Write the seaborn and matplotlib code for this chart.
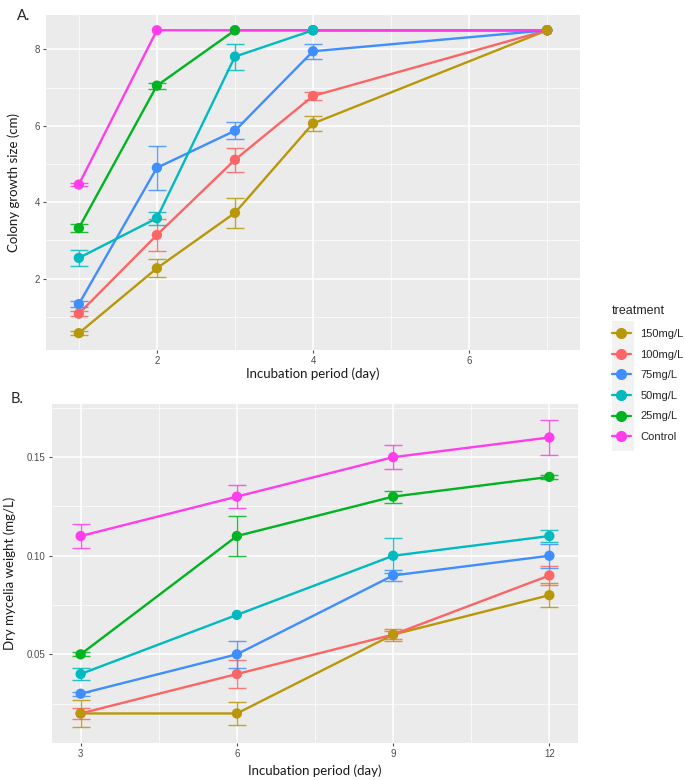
import numpy as np
import pandas as pd
import matplotlib
matplotlib.use("Agg")
import matplotlib.pyplot as plt
from matplotlib.lines import Line2D
from matplotlib.patches import Rectangle
import seaborn as sns

# Data
treatments = ["150mg/L", "100mg/L", "75mg/L", "50mg/L", "25mg/L", "Control"]
colors = ["#B8980A", "#FC6565", "#3F8EFF", "#00BABF", "#00B320", "#FF3DEB"]

# Panel A: colony growth (cm)
days_a = [1, 2, 3, 4, 7]
growth = {
    "150mg/L": [0.57, 2.27, 3.72, 6.06, 8.5],
    "100mg/L": [1.08, 3.14, 5.11, 6.78, 8.5],
    "75mg/L": [1.33, 4.90, 5.87, 7.95, 8.5],
    "50mg/L": [2.54, 3.58, 7.81, 8.5, 8.5],
    "25mg/L": [3.32, 7.05, 8.5, 8.5, 8.5],
    "Control": [4.46, 8.5, 8.5, 8.5, 8.5],
}
growth_err = {
    "150mg/L": [0.05, 0.24, 0.40, 0.20, 0.0],
    "100mg/L": [0.06, 0.42, 0.32, 0.11, 0.0],
    "75mg/L": [0.08, 0.58, 0.22, 0.20, 0.0],
    "50mg/L": [0.20, 0.17, 0.34, 0.0, 0.0],
    "25mg/L": [0.10, 0.08, 0.0, 0.0, 0.0],
    "Control": [0.05, 0.0, 0.0, 0.0, 0.0],
}

# Panel B: dry mycelia weight (mg/L)
days_b = [3, 6, 9, 12]
weight = {
    "150mg/L": [0.02, 0.02, 0.06, 0.08],
    "100mg/L": [0.02, 0.04, 0.06, 0.09],
    "75mg/L": [0.03, 0.05, 0.09, 0.10],
    "50mg/L": [0.04, 0.07, 0.10, 0.11],
    "25mg/L": [0.05, 0.11, 0.13, 0.14],
    "Control": [0.11, 0.13, 0.15, 0.16],
}
weight_err = {
    "150mg/L": [0.007, 0.006, 0.003, 0.006],
    "100mg/L": [0.003, 0.007, 0.002, 0.005],
    "75mg/L": [0.001, 0.007, 0.003, 0.006],
    "50mg/L": [0.003, 0.0, 0.009, 0.003],
    "25mg/L": [0.001, 0.010, 0.003, 0.001],
    "Control": [0.006, 0.006, 0.006, 0.009],
}


def to_frame(days, vals, errs):
    rows = []
    for t in treatments:
        for d, v, e in zip(days, vals[t], errs[t]):
            rows.append({"day": d, "value": v, "err": e, "treatment": t})
    return pd.DataFrame(rows)


df_a = to_frame(days_a, growth, growth_err)
df_b = to_frame(days_b, weight, weight_err)

sns.set_theme(style="darkgrid", rc={
    "axes.facecolor": "#EBEBEB",
    "grid.color": "white",
    "axes.edgecolor": "none",
    "xtick.color": "#4D4D4D",
    "ytick.color": "#4D4D4D",
    "xtick.bottom": True,
    "ytick.left": True,
    "xtick.major.size": 2.5,
    "ytick.major.size": 2.5,
    "xtick.major.width": 0.8,
    "ytick.major.width": 0.8,
})
plt.rcParams["font.family"] = ["Liberation Sans", "DejaVu Sans"]

palette = dict(zip(treatments, colors))
label_font = {"family": "Lato", "size": 9.5, "color": "#1A1A1A"}

fig = plt.figure(figsize=(6.85, 7.8), dpi=100)
ax_a = fig.add_axes([0.0672, 0.5513, 0.7795, 0.4295])
ax_b = fig.add_axes([0.0759, 0.0474, 0.7679, 0.4347])


def draw_panel(ax, df, capsize):
    # lines: Control drawn last (on top)
    sns.lineplot(data=df, x="day", y="value", hue="treatment", hue_order=treatments,
                 palette=palette, linewidth=1.7, legend=False, ax=ax, errorbar=None)
    # error bars
    for t in treatments:
        sub = df[df["treatment"] == t]
        sub = sub[sub["err"] > 0]
        ax.errorbar(sub["day"], sub["value"], yerr=sub["err"], fmt="none",
                    ecolor=palette[t], elinewidth=1.0, capsize=capsize,
                    capthick=1.0, alpha=0.85, zorder=3)
    # points: 150mg/L drawn last (on top)
    pts = pd.concat([df[df["treatment"] == t] for t in treatments[::-1]])
    sns.scatterplot(data=pts, x="day", y="value", hue="treatment", palette=palette,
                    s=55, edgecolor="none", legend=False, ax=ax, zorder=4)
    ax.grid(which="major", color="white", linewidth=1.1)
    ax.grid(which="minor", color="white", linewidth=0.5)
    ax.tick_params(axis="both", which="major", labelsize=7, pad=2)
    ax.tick_params(axis="both", which="minor", length=0)


draw_panel(ax_a, df_a, 6.5)
ax_a.set_xlim(0.58, 7.42)
ax_a.set_ylim(0.13, 8.9)
ax_a.set_xticks([2, 4, 6])
ax_a.set_xticks([1, 3, 5, 7], minor=True)
ax_a.set_yticks([2, 4, 6, 8])
ax_a.set_yticks([1, 3, 5, 7], minor=True)
ax_a.set_xlabel("Incubation period (day)", fontdict=label_font, labelpad=1)
ax_a.set_ylabel("Colony growth size (cm)", fontdict=label_font, labelpad=10)

draw_panel(ax_b, df_b, 6.5)
ax_b.set_xlim(2.45, 12.55)
ax_b.set_ylim(0.005, 0.177)
ax_b.set_xticks([3, 6, 9, 12])
ax_b.set_xticks([4.5, 7.5, 10.5], minor=True)
ax_b.set_yticks([0.05, 0.10, 0.15])
ax_b.set_yticklabels(["0.05", "0.10", "0.15"])
ax_b.set_yticks([0.025, 0.075, 0.125, 0.175], minor=True)
ax_b.set_xlabel("Incubation period (day)", fontdict=label_font, labelpad=4)
ax_b.set_ylabel("Dry mycelia weight (mg/L)", fontdict=label_font, labelpad=8)

fig.text(0.025, 0.988, "A.", fontsize=10.5, family="Lato", va="top")
fig.text(0.015, 0.497, "B.", fontsize=10.5, family="Lato", va="top")

# shared legend
fig.patches.append(Rectangle((612 / 685, 1 - 451 / 780), 22 / 685, 130 / 780,
                             transform=fig.transFigure, facecolor="#F2F2F2",
                             edgecolor="none", zorder=0))
handles = [Line2D([0], [0], color=c, marker="o", markersize=7, linewidth=1.6)
           for c in colors]
leg = fig.legend(handles, treatments, title="treatment", loc="upper left",
                 bbox_to_anchor=(0.887, 0.615), frameon=False, fontsize=8,
                 title_fontsize=9, handlelength=1.7, handletextpad=0.85,
                 labelspacing=0.95, borderaxespad=0)
leg._legend_box.align = "left"
leg._legend_box.sep = 9

fig.savefig("out.png", dpi=100)
